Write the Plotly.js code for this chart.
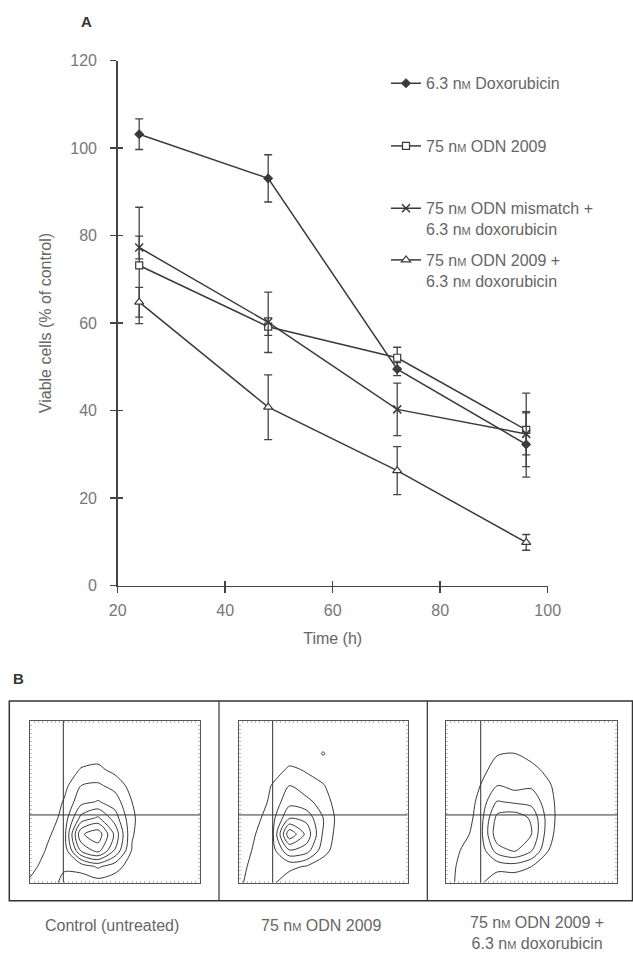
<!DOCTYPE html>
<html><head><meta charset="utf-8">
<script src="https://cdn.plot.ly/plotly-3.0.1.min.js"></script>
<style>html,body{margin:0;padding:0;background:#fff}</style>
</head><body><div id="chart" style="width:633px;height:953px"></div>
<script>
// ---- Panel A data ----
const timeH = [24, 48, 72, 96];
const doxVal = [103.2, 93.1, 49.5, 32.3];
const doxErr = [3.5, 5.4, 1.5, 7.5];
const odnVal = [73.2, 59.2, 52.1, 35.6];
const odnErr = [13.3, 2.0, 2.4, 8.4];
const misVal = [77.3, 60.2, 40.3, 34.7];
const misErr = [2.6, 6.9, 6.0, 4.8];
const comboVal = [64.8, 40.8, 26.3, 9.9];
const comboErr = [3.4, 7.4, 5.5, 1.8];
const SMALLM = 'n<span style="font-size:11px">M</span>';
const seriesNames = [
  '6.3 ' + SMALLM + ' Doxorubicin',
  '75 ' + SMALLM + ' ODN 2009',
  '75 ' + SMALLM + ' ODN mismatch +<br>6.3 ' + SMALLM + ' doxorubicin',
  '75 ' + SMALLM + ' ODN 2009 +<br>6.3 ' + SMALLM + ' doxorubicin'
];
const xTicks = [20, 40, 60, 80, 100];
const yTicks = [0, 20, 40, 60, 80, 100, 120];
const xTitle = 'Time (h)';
const yTitle = 'Viable cells (% of control)';

// ---- Panel B data (estimated density grids, rows = y from 0 to 1) ----
const gridX = [0, 0.1, 0.2, 0.3, 0.4, 0.5, 0.6, 0.7, 0.8, 0.9, 1];
const gridY = [0, 0.1, 0.2, 0.3, 0.4, 0.5, 0.6, 0.7, 0.8, 0.9, 1];
const zControl = [
  [1.2, 1.4, 0.8, 0.4, 0.5, 0.3, 0.1, 0, 0, 0, 0],
  [0.6, 1.5, 1.1, 1.4, 2.4, 1.5, 0.4, 0, 0, 0, 0],
  [0.2, 1.1, 1.3, 6.0, 7.5, 4.5, 0.9, 0.1, 0, 0, 0],
  [0, 0.8, 1.6, 8.0, 9.0, 5.5, 1.1, 0.2, 0, 0, 0],
  [0, 0.3, 1.4, 5.0, 6.0, 4.0, 1.2, 0.2, 0, 0, 0],
  [0, 0, 1.1, 3.0, 3.5, 2.8, 1.0, 0.1, 0, 0, 0],
  [0, 0, 0.6, 2.2, 2.4, 1.8, 0.5, 0, 0, 0, 0],
  [0, 0, 0.1, 1.1, 1.3, 0.6, 0.1, 0, 0, 0, 0],
  [0, 0, 0, 0.2, 0.4, 0.1, 0, 0, 0, 0, 0],
  [0, 0, 0, 0, 0, 0, 0, 0, 0, 0, 0],
  [0, 0, 0, 0, 0, 0, 0, 0, 0, 0, 0]
];
const zOdn = [
  [0.8, 1.5, 1.2, 0.3, 0, 0, 0, 0, 0, 0, 0],
  [0.4, 1.6, 1.5, 1.3, 0.9, 0.3, 0, 0, 0, 0, 0],
  [0, 1.3, 1.7, 4.5, 4.0, 1.5, 0.2, 0, 0, 0, 0],
  [0, 1.0, 1.9, 8.0, 5.5, 2.0, 0.3, 0, 0, 0, 0],
  [0, 0.6, 1.8, 4.5, 4.2, 2.2, 0.4, 0, 0, 0, 0],
  [0, 0.1, 1.4, 3.0, 2.6, 1.6, 0.3, 0, 0, 0, 0],
  [0, 0, 1.1, 2.2, 1.4, 1.1, 0.1, 0, 0, 0, 0],
  [0, 0, 0.4, 1.2, 0.9, 0.3, 0, 0, 0, 0, 0],
  [0, 0, 0, 0.3, 0.2, 1.1, 0, 0, 0, 0, 0],
  [0, 0, 0, 0, 0, 0, 0, 0, 0, 0, 0],
  [0, 0, 0, 0, 0, 0, 0, 0, 0, 0, 0]
];
const zCombo = [
  [0.6, 1.4, 1.2, 0.2, 0, 0, 0, 0, 0, 0, 0],
  [0.3, 1.5, 1.3, 1.4, 1.6, 1.0, 0.2, 0, 0, 0, 0],
  [0, 1.2, 1.4, 4.0, 4.8, 3.5, 1.0, 0, 0, 0, 0],
  [0, 0.6, 1.7, 5.5, 5.6, 4.6, 1.4, 0, 0, 0, 0],
  [0, 0.2, 1.6, 5.0, 5.4, 4.4, 1.6, 0, 0, 0, 0],
  [0, 0, 1.4, 3.5, 3.2, 3.0, 1.5, 0, 0, 0, 0],
  [0, 0, 1.0, 2.2, 1.8, 2.0, 1.2, 0, 0, 0, 0],
  [0, 0, 0.5, 1.6, 1.2, 1.4, 0.6, 0, 0, 0, 0],
  [0, 0, 0, 0.9, 1.0, 0.5, 0, 0, 0, 0, 0],
  [0, 0, 0, 0, 0, 0, 0, 0, 0, 0, 0],
  [0, 0, 0, 0, 0, 0, 0, 0, 0, 0, 0]
];
const gateX = [0.196, 0.201, 0.203];
const gateY = [0.419, 0.419, 0.419];
const panelCaptions = [
  'Control (untreated)',
  '75 ' + SMALLM + ' ODN 2009',
  '75 ' + SMALLM + ' ODN 2009 +<br>6.3 ' + SMALLM + ' doxorubicin'
];

// ---- build ----
const W = 633, H = 953;
const px = v => v / W;
const py = v => 1 - v / H;
const FONT = 'Liberation Sans, Arial, sans-serif';
const LINE = '#3a3a3a';

const markerDefs = [
  {symbol: 'diamond', size: 7, color: LINE, line: {color: LINE, width: 1}},
  {symbol: 'square', size: 7, color: '#fff', line: {color: LINE, width: 1.2}},
  {symbol: 'x-thin', size: 8, color: LINE, line: {color: LINE, width: 1.5}},
  {symbol: 'triangle-up', size: 8, color: '#fff', line: {color: LINE, width: 1.2}}
];
const vals = [doxVal, odnVal, misVal, comboVal];
const errs = [doxErr, odnErr, misErr, comboErr];
const legendIds = ['legend', 'legend2', 'legend3', 'legend4'];

const traces = vals.map((v, i) => ({
  type: 'scatter', mode: 'lines+markers',
  x: timeH, y: v, name: seriesNames[i],
  xaxis: 'x', yaxis: 'y',
  legend: legendIds[i],
  line: {color: LINE, width: 1.5},
  marker: markerDefs[i],
  error_y: {type: 'data', array: errs[i], visible: true, color: '#444', thickness: 1.3, width: 4}
}));
// empty trace so the overlay (inner-tick) axes get drawn
traces.push({type: 'scatter', x: [], y: [], xaxis: 'x2', yaxis: 'y2', showlegend: false, hoverinfo: 'skip'});

const zs = [zControl, zOdn, zCombo];
zs.forEach((z, i) => {
  traces.push({
    type: 'contour', x: gridX, y: gridY, z: z,
    xaxis: 'x' + (i + 3), yaxis: 'y' + (i + 3),
    autocontour: false,
    contours: {coloring: 'lines', start: 1, end: 8.2, size: 1.2},
    line: {width: 0.9, smoothing: 0.8},
    colorscale: [[0, '#222'], [1, '#222']],
    showscale: false, showlegend: false, hoverinfo: 'skip'
  });
});

const flowDomX = [[px(30), px(200)], [px(238.7), px(407.7)], [px(446), px(617)]];
const flowDomY = [py(882.7), py(721)];

const layout = {
  width: W, height: H,
  margin: {l: 0, r: 0, t: 0, b: 0, autoexpand: false},
  paper_bgcolor: '#fff', plot_bgcolor: 'rgba(0,0,0,0)',
  font: {family: FONT, color: '#666', size: 16},
  showlegend: true,
  xaxis: {
    domain: [px(117.7), px(547.7)], range: [20, 100], anchor: 'y',
    showline: true, linecolor: '#444', linewidth: 1.5,
    ticks: 'outside', ticklen: 6, tickwidth: 1.5, tickcolor: '#444',
    tickvals: xTicks, ticklabelstandoff: 4,
    tickfont: {size: 16, color: '#777', family: FONT},
    showgrid: false, zeroline: false, automargin: false,
    title: {text: xTitle, font: {size: 16, color: '#666', family: FONT}}
  },
  xaxis2: {
    overlaying: 'x', anchor: 'y2', range: [20, 100],
    ticks: 'inside', ticklen: 5, tickwidth: 1.5, tickcolor: '#444',
    tickvals: xTicks, showticklabels: false, showline: false, showgrid: false, zeroline: false
  },
  yaxis: {
    domain: [py(585.7), py(60.7)], range: [0, 120], anchor: 'x',
    showline: true, linecolor: '#444', linewidth: 1.5,
    ticks: 'outside', ticklen: 6, tickwidth: 1.5, tickcolor: '#444',
    tickvals: yTicks, ticklabelstandoff: 10,
    tickfont: {size: 16, color: '#777', family: FONT},
    showgrid: false, zeroline: false, automargin: false
  },
  yaxis2: {
    overlaying: 'y', anchor: 'x2', range: [0, 120],
    ticks: 'inside', ticklen: 5, tickwidth: 1.5, tickcolor: '#444',
    tickvals: yTicks, showticklabels: false, showline: false, showgrid: false, zeroline: false
  },
  shapes: [],
  annotations: []
};

const legTops = [66.3, 129, 191.3, 243];
legendIds.forEach((id, i) => {
  layout[id] = {
    x: px(386), xanchor: 'left', y: py(legTops[i]), yanchor: 'top',
    bgcolor: 'rgba(0,0,0,0)', borderwidth: 0, valign: 'top',
    font: {size: 16, color: '#666', family: FONT}
  };
});

for (let i = 0; i < 3; i++) {
  const n = i + 3;
  const axBase = {
    range: [0, 1], showline: true, mirror: 'ticks', linecolor: '#555', linewidth: 1,
    ticks: 'inside', ticklen: 2, tickwidth: 0.8, tickcolor: '#aaa', dtick: 0.025,
    showticklabels: false, showgrid: false, zeroline: false, fixedrange: true
  };
  layout['xaxis' + n] = Object.assign({}, axBase, {domain: flowDomX[i], anchor: 'y' + n});
  layout['yaxis' + n] = Object.assign({}, axBase, {domain: flowDomY, anchor: 'x' + n});
  layout.shapes.push({type: 'line', xref: 'x' + n, yref: 'y' + n,
    x0: gateX[i], x1: gateX[i], y0: 0, y1: 1, line: {color: '#333', width: 1}});
  layout.shapes.push({type: 'line', xref: 'x' + n, yref: 'y' + n,
    x0: 0, x1: 1, y0: gateY[i], y1: gateY[i], line: {color: '#333', width: 1}});
}
// outer frame of panel B
layout.shapes.push({type: 'rect', xref: 'paper', yref: 'paper',
  x0: px(9.3), x1: px(632.5), y0: py(900.7), y1: py(701), line: {color: '#333', width: 1.5}});
[219, 427.3].forEach(xx => layout.shapes.push({type: 'line', xref: 'paper', yref: 'paper',
  x0: px(xx), x1: px(xx), y0: py(900.7), y1: py(701), line: {color: '#333', width: 1.2}}));

const ann = (text, x, y, size, color, angle) => ({
  text: text, xref: 'paper', yref: 'paper', x: px(x), y: py(y),
  xanchor: 'center', yanchor: 'middle', showarrow: false, align: 'center',
  textangle: angle || 0,
  font: {size: size, color: color, family: FONT}
});
layout.annotations.push(ann(yTitle, 45, 323.2, 16, '#666', -90));
layout.annotations.push(ann('<b>A</b>', 86, 21.7, 15, '#333'));
layout.annotations.push(ann('<b>B</b>', 18, 678, 15, '#333'));
const capX = [111.7, 320.5, 536.7];
const capY = [925.7, 925.7, 932.5];
panelCaptions.forEach((t, i) => layout.annotations.push(ann(t, capX[i], capY[i], 16, '#666')));

Plotly.newPlot('chart', traces, layout, {displayModeBar: false, staticPlot: true});
</script>
</body></html>
